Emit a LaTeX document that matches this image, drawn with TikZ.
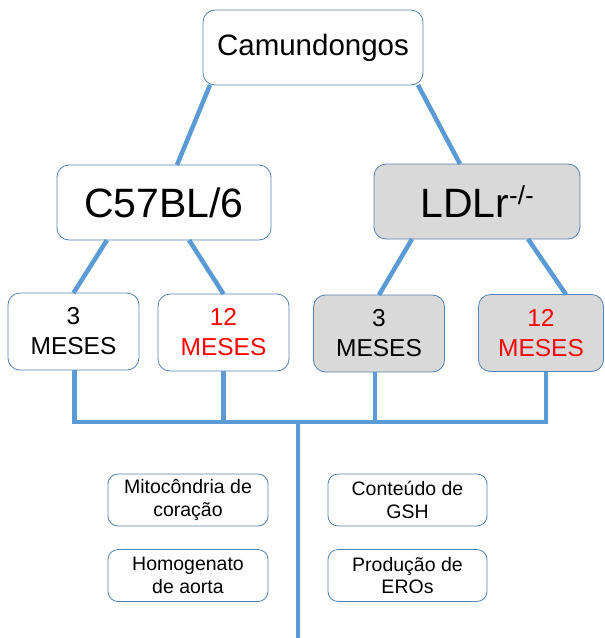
\documentclass[tikz,border=0pt]{standalone}
\usepackage{fontspec}
\setmainfont{Liberation Sans}
\usetikzlibrary{positioning}
\definecolor{linkblue}{RGB}{91,155,213}
\definecolor{boxedge}{RGB}{84,130,178}
\definecolor{boxgray}{RGB}{217,217,217}
\definecolor{agered}{RGB}{255,0,0}

\begin{document}
\begin{tikzpicture}[x=1pt,y=-1pt]
	\tikzstyle{box}=[draw=boxedge,line width=0.8pt,rounded corners=12pt,fill=white,align=center,outer sep=0pt,inner sep=0pt]
	\tikzstyle{group box}=[box,minimum height=75pt,font=\fontsize{41}{45}\selectfont]
	\tikzstyle{age box}=[box,minimum width=131pt,minimum height=77pt,font=\fontsize{24.5}{30}\selectfont]
	\tikzstyle{sample box}=[box,rounded corners=10pt,minimum width=160pt,minimum height=52pt,font=\fontsize{19.5}{22.5}\selectfont]
	\tikzstyle{ko}=[fill=boxgray]
	\tikzstyle{link}=[draw=linkblue,line width=4.5pt]

	\useasboundingbox (0,0) rectangle (605,638);

	% Draw the top node and the two strains
	\node[box,minimum width=220pt,minimum height=75pt,font=\fontsize{29.5}{34}\selectfont] (mice) at (313,47.5) {Camundongos};
	\node[group box,minimum width=214pt] (wt) at (164,202.5) {C57BL/6};
	\node[group box,ko,minimum width=206pt] (ldlr) at (477,201.5) {LDLr\raisebox{13pt}{\fontsize{26}{26}\selectfont -/-}};

	% Draw the age nodes
	\node[age box] (wt3) at (73.5,331.5) {3\\MESES};
	\node[age box,text=agered] (wt12) at (223.5,332.5) {12\\MESES};
	\node[age box,ko] (ko3) at (379,333.5) {3\\MESES};
	\node[age box,ko,text=agered,minimum width=125pt] (ko12) at (541,333) {12\\MESES};

	% Draw the sample nodes
	\node[sample box] (mito) at (188,500) {Mitocôndria de\\coração};
	\node[sample box] (aorta) at (188,575.5) {Homogenato\\de aorta};
	\node[sample box,minimum width=159pt] (gsh) at (407.5,500) {Conteúdo de\\GSH};
	\node[sample box,minimum width=159pt] (eros) at (407.5,575.5) {Produção de\\EROs};

	\coordinate (hub) at (298,422);
	\coordinate (tail) at (298,638);

	% Connect the top node with the strains, and the strains with the ages
	\draw[link] ([xshift=7pt]mice.south west) -- ([xshift=120pt]wt.north west);
	\draw[link] ([xshift=-5pt]mice.south east) -- ([xshift=86pt]ldlr.north west);
	\draw[link] ([xshift=50pt]wt.south west) -- (wt3.north);
	\draw[link] ([xshift=132pt]wt.south west) -- (wt12.north);
	\draw[link] ([xshift=38pt]ldlr.south west) -- (ko3.north);
	\draw[link] ([xshift=154pt]ldlr.south west) -- ([xshift=25pt]ko12.north);

	% Join every age node on one bus
	\draw[link,line join=miter] ([xshift=1pt]wt3.south) |- (hub) -| ([xshift=5pt]ko12.south);
	\foreach \src/\dx in {wt12/0,ko3/-4}
	\draw[link] ([xshift=\dx pt]\src.south) -- ([xshift=\dx pt]\src.south |- hub);
	\draw[link] (hub) -- (tail);

\end{tikzpicture}
\end{document}
